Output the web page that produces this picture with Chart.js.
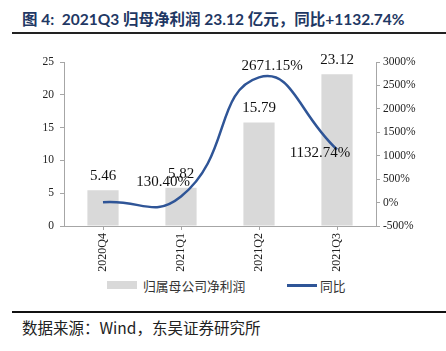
<!DOCTYPE html>
<html>
<head>
<meta charset="utf-8">
<script src="https://cdn.jsdelivr.net/npm/chart.js@4"></script>
<style>
  body { margin: 0; width: 446px; height: 351px; background: #fff; position: relative; overflow: hidden; }
  #title { position: absolute; left: 22px; top: 7px; font: bold 15.5px Lato, "Noto Sans CJK SC", sans-serif; color: #1f3864; white-space: nowrap; }
  #titleLine { position: absolute; left: 12px; top: 32px; width: 434px; height: 2px; background: #222; }
  #wrap { position: absolute; left: 0; top: 40px; width: 446px; height: 232px; }
  #legend { position: absolute; left: 0; top: 276px; width: 446px; font: 12.8px "Noto Sans CJK SC", sans-serif; color: #333; }
  .sw { position: absolute; }
  #footLine { position: absolute; left: 12px; top: 311px; width: 434px; height: 1.5px; background: #111; }
  #source { position: absolute; left: 22px; top: 316px; font: 15.5px "Noto Sans CJK SC", sans-serif; color: #222; white-space: nowrap; }
</style>
</head>
<body>
<div id="title">图 4:&nbsp; 2021Q3 归母净利润 23.12 亿元，同比+1132.74%</div>
<div id="titleLine"></div>
<div id="wrap"><canvas id="c" width="446" height="232"></canvas></div>
<div id="legend">
  <div class="sw" style="left:107px;top:5px;width:30px;height:8px;background:#d9d9d9"></div>
  <div class="sw" style="left:143px;top:0px">归属母公司净利润</div>
  <div class="sw" style="left:287px;top:8px;width:30px;height:2.5px;background:#2f5597"></div>
  <div class="sw" style="left:320px;top:0px">同比</div>
</div>
<div id="footLine"></div>
<div id="source">数据来源：Wind，东吴证券研究所</div>
<script>
const categories = ['2020Q4', '2021Q1', '2021Q2', '2021Q3'];
const netProfit = [5.46, 5.82, 15.79, 23.12];
const yoyGrowth = [5, 130.40, 2671.15, 1132.74];
const yoyLabels = [null, '130.40%', '2671.15%', '1132.74%'];
const leftTicks = [0, 5, 10, 15, 20, 25];
const rightTicks = [-500, 0, 500, 1000, 1500, 2000, 2500, 3000];

// where each growth label sits relative to its point
const yoyLabelOffset = [null, [-18, -14], [13, -11], [-17, 4]];

const serif = '"Liberation Serif", "DejaVu Serif", serif';
const axisGrey = '#a6a6a6';

const valueLabels = {
  id: 'valueLabels',
  afterDatasetsDraw(chart) {
    const ctx = chart.ctx;
    ctx.save();
    ctx.font = '15px ' + serif;
    ctx.fillStyle = '#111';
    ctx.textAlign = 'center';
    ctx.textBaseline = 'middle';
    // dataset 1 = bars, dataset 0 = growth line
    chart.getDatasetMeta(1).data.forEach((bar, i) => {
      ctx.fillText(netProfit[i].toFixed(2), bar.x, bar.y - 14);
    });
    chart.getDatasetMeta(0).data.forEach((pt, i) => {
      if (!yoyLabels[i]) return;
      const off = yoyLabelOffset[i];
      ctx.fillText(yoyLabels[i], pt.x + off[0], pt.y + off[1]);
    });
    ctx.restore();
  }
};

new Chart(document.getElementById('c'), {
  data: {
    labels: categories,
    datasets: [
      {
        type: 'line',
        label: '同比',
        data: yoyGrowth,
        yAxisID: 'y2',
        borderColor: '#2f5597',
        borderWidth: 2.5,
        pointRadius: 0,
        tension: 0.5,
        order: 0
      },
      {
        type: 'bar',
        label: '归属母公司净利润',
        data: netProfit,
        yAxisID: 'y',
        backgroundColor: '#d9d9d9',
        categoryPercentage: 1,
        barPercentage: 0.4,
        order: 1
      }
    ]
  },
  plugins: [valueLabels],
  options: {
    responsive: false,
    animation: false,
    layout: { padding: { top: 22, left: 0, right: 0, bottom: 0 } },
    plugins: { legend: { display: false }, tooltip: { enabled: false } },
    scales: {
      x: {
        offset: true,
        grid: { offset: false, drawOnChartArea: false, color: axisGrey, tickLength: 4 },
        border: { color: axisGrey },
        ticks: { maxRotation: 90, minRotation: 90, color: '#222', font: { family: serif, size: 12 }, padding: 3 },
        afterFit(s) { s.height = 46; }
      },
      y: {
        position: 'left',
        min: 0, max: 25,
        afterBuildTicks(s) { s.ticks = leftTicks.map(v => ({ value: v })); },
        grid: { drawOnChartArea: false, color: axisGrey, tickLength: 4 },
        border: { color: axisGrey },
        ticks: { color: '#222', font: { family: serif, size: 11.5 }, padding: 6 },
        afterFit(s) { s.width = 64; }
      },
      y2: {
        position: 'right',
        min: -500, max: 3000,
        afterBuildTicks(s) { s.ticks = rightTicks.map(v => ({ value: v })); },
        grid: { drawOnChartArea: false, color: axisGrey, tickLength: 4 },
        border: { color: axisGrey },
        ticks: { color: '#222', font: { family: serif, size: 11.5 }, padding: 3, callback: v => v + '%' },
        afterFit(s) { s.width = 70; }
      }
    }
  }
});
</script>
</body>
</html>
